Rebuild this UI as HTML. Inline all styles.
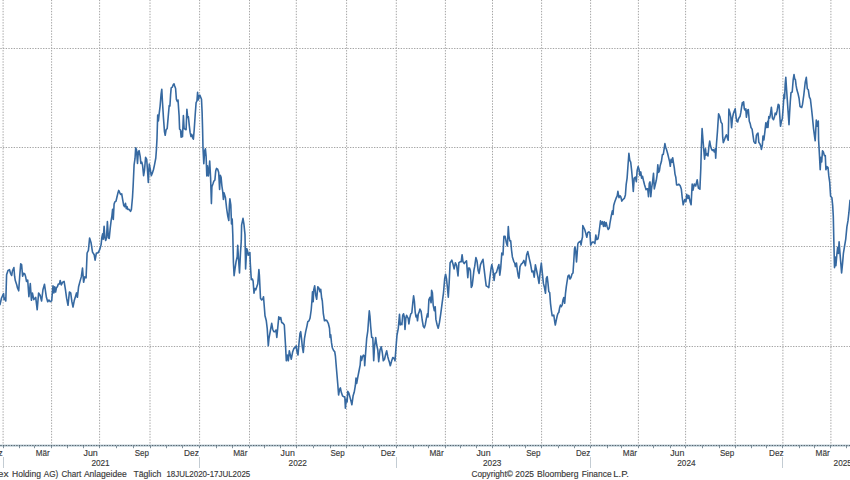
<!DOCTYPE html>
<html><head><meta charset="utf-8"><style>
html,body{margin:0;padding:0;background:#fff;}
body{width:850px;height:480px;overflow:hidden;}
svg{display:block;}
text{font-family:"Liberation Sans",sans-serif;font-size:9px;fill:#383838;stroke:#383838;stroke-width:0.15px;}
text.m{font-size:9.6px;}
</style></head><body>
<svg width="850" height="480" viewBox="0 0 850 480">
<rect width="850" height="480" fill="#fff"/>
<line x1="0" y1="48.5" x2="850" y2="48.5" stroke="#a4a4a4" stroke-width="1" stroke-dasharray="1.3345 1.3345" stroke-dashoffset="-0.36"/>
<line x1="0" y1="147.5" x2="850" y2="147.5" stroke="#a4a4a4" stroke-width="1" stroke-dasharray="1.3345 1.3345" stroke-dashoffset="-0.36"/>
<line x1="0" y1="246.5" x2="850" y2="246.5" stroke="#a4a4a4" stroke-width="1" stroke-dasharray="1.3345 1.3345" stroke-dashoffset="-0.36"/>
<line x1="0" y1="346.5" x2="850" y2="346.5" stroke="#a4a4a4" stroke-width="1" stroke-dasharray="1.3345 1.3345" stroke-dashoffset="-0.36"/>
<line x1="3.10" y1="0" x2="3.10" y2="447" stroke="#a4a4a4" stroke-width="1" stroke-dasharray="1.4 1.4" stroke-dashoffset="0.3"/>
<line x1="51.60" y1="0" x2="51.60" y2="447" stroke="#a4a4a4" stroke-width="1" stroke-dasharray="1.4 1.4" stroke-dashoffset="0.3"/>
<line x1="99.60" y1="0" x2="99.60" y2="447" stroke="#a4a4a4" stroke-width="1" stroke-dasharray="1.4 1.4" stroke-dashoffset="0.3"/>
<line x1="150.00" y1="0" x2="150.00" y2="447" stroke="#a4a4a4" stroke-width="1" stroke-dasharray="1.4 1.4" stroke-dashoffset="0.3"/>
<line x1="199.60" y1="0" x2="199.60" y2="447" stroke="#a4a4a4" stroke-width="1" stroke-dasharray="1.4 1.4" stroke-dashoffset="0.3"/>
<line x1="249.50" y1="0" x2="249.50" y2="447" stroke="#a4a4a4" stroke-width="1" stroke-dasharray="1.4 1.4" stroke-dashoffset="0.3"/>
<line x1="296.30" y1="0" x2="296.30" y2="447" stroke="#a4a4a4" stroke-width="1" stroke-dasharray="1.4 1.4" stroke-dashoffset="0.3"/>
<line x1="346.60" y1="0" x2="346.60" y2="447" stroke="#a4a4a4" stroke-width="1" stroke-dasharray="1.4 1.4" stroke-dashoffset="0.3"/>
<line x1="396.30" y1="0" x2="396.30" y2="447" stroke="#a4a4a4" stroke-width="1" stroke-dasharray="1.4 1.4" stroke-dashoffset="0.3"/>
<line x1="445.40" y1="0" x2="445.40" y2="447" stroke="#a4a4a4" stroke-width="1" stroke-dasharray="1.4 1.4" stroke-dashoffset="0.3"/>
<line x1="492.50" y1="0" x2="492.50" y2="447" stroke="#a4a4a4" stroke-width="1" stroke-dasharray="1.4 1.4" stroke-dashoffset="0.3"/>
<line x1="541.60" y1="0" x2="541.60" y2="447" stroke="#a4a4a4" stroke-width="1" stroke-dasharray="1.4 1.4" stroke-dashoffset="0.3"/>
<line x1="590.60" y1="0" x2="590.60" y2="447" stroke="#a4a4a4" stroke-width="1" stroke-dasharray="1.4 1.4" stroke-dashoffset="0.3"/>
<line x1="638.40" y1="0" x2="638.40" y2="447" stroke="#a4a4a4" stroke-width="1" stroke-dasharray="1.4 1.4" stroke-dashoffset="0.3"/>
<line x1="685.60" y1="0" x2="685.60" y2="447" stroke="#a4a4a4" stroke-width="1" stroke-dasharray="1.4 1.4" stroke-dashoffset="0.3"/>
<line x1="735.30" y1="0" x2="735.30" y2="447" stroke="#a4a4a4" stroke-width="1" stroke-dasharray="1.4 1.4" stroke-dashoffset="0.3"/>
<line x1="782.90" y1="0" x2="782.90" y2="447" stroke="#a4a4a4" stroke-width="1" stroke-dasharray="1.4 1.4" stroke-dashoffset="0.3"/>
<line x1="830.90" y1="0" x2="830.90" y2="447" stroke="#a4a4a4" stroke-width="1" stroke-dasharray="1.4 1.4" stroke-dashoffset="0.3"/>
<rect x="0" y="444.6" width="850" height="2.0" fill="#b3c6d0"/>
<line x1="0" y1="445.5" x2="850" y2="445.5" stroke="#56646e" stroke-width="1" stroke-dasharray="1.33 1.33" stroke-dashoffset="-0.3"/>
<line x1="3.5" y1="446" x2="3.5" y2="448.2" stroke="#7f8f9a" stroke-width="1"/>
<line x1="19.5" y1="446" x2="19.5" y2="448.2" stroke="#7f8f9a" stroke-width="1"/>
<line x1="34.5" y1="446" x2="34.5" y2="448.2" stroke="#7f8f9a" stroke-width="1"/>
<line x1="51.5" y1="446" x2="51.5" y2="448.2" stroke="#7f8f9a" stroke-width="1"/>
<line x1="67.5" y1="446" x2="67.5" y2="448.2" stroke="#7f8f9a" stroke-width="1"/>
<line x1="83.5" y1="446" x2="83.5" y2="448.2" stroke="#7f8f9a" stroke-width="1"/>
<line x1="99.5" y1="446" x2="99.5" y2="448.2" stroke="#7f8f9a" stroke-width="1"/>
<line x1="116.5" y1="446" x2="116.5" y2="448.2" stroke="#7f8f9a" stroke-width="1"/>
<line x1="133.5" y1="446" x2="133.5" y2="448.2" stroke="#7f8f9a" stroke-width="1"/>
<line x1="150.5" y1="446" x2="150.5" y2="448.2" stroke="#7f8f9a" stroke-width="1"/>
<line x1="166.5" y1="446" x2="166.5" y2="448.2" stroke="#7f8f9a" stroke-width="1"/>
<line x1="182.5" y1="446" x2="182.5" y2="448.2" stroke="#7f8f9a" stroke-width="1"/>
<line x1="199.5" y1="446" x2="199.5" y2="448.2" stroke="#7f8f9a" stroke-width="1"/>
<line x1="216.5" y1="446" x2="216.5" y2="448.2" stroke="#7f8f9a" stroke-width="1"/>
<line x1="232.5" y1="446" x2="232.5" y2="448.2" stroke="#7f8f9a" stroke-width="1"/>
<line x1="249.5" y1="446" x2="249.5" y2="448.2" stroke="#7f8f9a" stroke-width="1"/>
<line x1="264.5" y1="446" x2="264.5" y2="448.2" stroke="#7f8f9a" stroke-width="1"/>
<line x1="280.5" y1="446" x2="280.5" y2="448.2" stroke="#7f8f9a" stroke-width="1"/>
<line x1="296.5" y1="446" x2="296.5" y2="448.2" stroke="#7f8f9a" stroke-width="1"/>
<line x1="313.5" y1="446" x2="313.5" y2="448.2" stroke="#7f8f9a" stroke-width="1"/>
<line x1="330.5" y1="446" x2="330.5" y2="448.2" stroke="#7f8f9a" stroke-width="1"/>
<line x1="346.5" y1="446" x2="346.5" y2="448.2" stroke="#7f8f9a" stroke-width="1"/>
<line x1="363.5" y1="446" x2="363.5" y2="448.2" stroke="#7f8f9a" stroke-width="1"/>
<line x1="379.5" y1="446" x2="379.5" y2="448.2" stroke="#7f8f9a" stroke-width="1"/>
<line x1="396.5" y1="446" x2="396.5" y2="448.2" stroke="#7f8f9a" stroke-width="1"/>
<line x1="413.5" y1="446" x2="413.5" y2="448.2" stroke="#7f8f9a" stroke-width="1"/>
<line x1="428.5" y1="446" x2="428.5" y2="448.2" stroke="#7f8f9a" stroke-width="1"/>
<line x1="445.5" y1="446" x2="445.5" y2="448.2" stroke="#7f8f9a" stroke-width="1"/>
<line x1="460.5" y1="446" x2="460.5" y2="448.2" stroke="#7f8f9a" stroke-width="1"/>
<line x1="476.5" y1="446" x2="476.5" y2="448.2" stroke="#7f8f9a" stroke-width="1"/>
<line x1="492.5" y1="446" x2="492.5" y2="448.2" stroke="#7f8f9a" stroke-width="1"/>
<line x1="509.5" y1="446" x2="509.5" y2="448.2" stroke="#7f8f9a" stroke-width="1"/>
<line x1="525.5" y1="446" x2="525.5" y2="448.2" stroke="#7f8f9a" stroke-width="1"/>
<line x1="541.5" y1="446" x2="541.5" y2="448.2" stroke="#7f8f9a" stroke-width="1"/>
<line x1="558.5" y1="446" x2="558.5" y2="448.2" stroke="#7f8f9a" stroke-width="1"/>
<line x1="574.5" y1="446" x2="574.5" y2="448.2" stroke="#7f8f9a" stroke-width="1"/>
<line x1="590.5" y1="446" x2="590.5" y2="448.2" stroke="#7f8f9a" stroke-width="1"/>
<line x1="607.5" y1="446" x2="607.5" y2="448.2" stroke="#7f8f9a" stroke-width="1"/>
<line x1="621.5" y1="446" x2="621.5" y2="448.2" stroke="#7f8f9a" stroke-width="1"/>
<line x1="638.5" y1="446" x2="638.5" y2="448.2" stroke="#7f8f9a" stroke-width="1"/>
<line x1="653.5" y1="446" x2="653.5" y2="448.2" stroke="#7f8f9a" stroke-width="1"/>
<line x1="670.5" y1="446" x2="670.5" y2="448.2" stroke="#7f8f9a" stroke-width="1"/>
<line x1="685.5" y1="446" x2="685.5" y2="448.2" stroke="#7f8f9a" stroke-width="1"/>
<line x1="702.5" y1="446" x2="702.5" y2="448.2" stroke="#7f8f9a" stroke-width="1"/>
<line x1="719.5" y1="446" x2="719.5" y2="448.2" stroke="#7f8f9a" stroke-width="1"/>
<line x1="735.5" y1="446" x2="735.5" y2="448.2" stroke="#7f8f9a" stroke-width="1"/>
<line x1="751.5" y1="446" x2="751.5" y2="448.2" stroke="#7f8f9a" stroke-width="1"/>
<line x1="766.5" y1="446" x2="766.5" y2="448.2" stroke="#7f8f9a" stroke-width="1"/>
<line x1="782.5" y1="446" x2="782.5" y2="448.2" stroke="#7f8f9a" stroke-width="1"/>
<line x1="799.5" y1="446" x2="799.5" y2="448.2" stroke="#7f8f9a" stroke-width="1"/>
<line x1="814.5" y1="446" x2="814.5" y2="448.2" stroke="#7f8f9a" stroke-width="1"/>
<line x1="830.5" y1="446" x2="830.5" y2="448.2" stroke="#7f8f9a" stroke-width="1"/>
<line x1="846.5" y1="446" x2="846.5" y2="448.2" stroke="#7f8f9a" stroke-width="1"/>
<line x1="3.5" y1="457" x2="3.5" y2="468" stroke="#c3ccd3" stroke-width="1"/>
<line x1="199.5" y1="457" x2="199.5" y2="468" stroke="#c3ccd3" stroke-width="1"/>
<line x1="396.5" y1="457" x2="396.5" y2="468" stroke="#c3ccd3" stroke-width="1"/>
<line x1="590.5" y1="457" x2="590.5" y2="468" stroke="#c3ccd3" stroke-width="1"/>
<line x1="782.5" y1="457" x2="782.5" y2="468" stroke="#c3ccd3" stroke-width="1"/>
<path d="M0.0,304.7 L1.5,298.0 L2.9,295.0 L3.6,293.7 L4.1,299.6 L5.1,298.0 L5.8,301.0 L6.6,274.8 L8.0,270.4 L9.5,269.7 L10.5,273.3 L11.7,275.5 L12.4,271.0 L13.9,267.5 L14.6,276.2 L15.3,280.6 L16.8,285.0 L17.5,288.0 L18.7,290.8 L19.7,276.2 L20.7,263.9 L21.6,264.6 L22.6,276.2 L23.6,273.3 L24.8,274.0 L25.5,276.2 L26.5,281.4 L27.7,280.0 L28.9,296.7 L30.3,283.5 L31.4,300.3 L32.4,293.0 L33.8,299.6 L35.7,297.4 L37.2,309.8 L38.6,293.0 L40.1,295.2 L41.6,301.0 L43.0,289.4 L44.5,284.3 L46.4,297.3 L47.7,301.7 L48.9,300.0 L50.3,301.7 L51.7,300.8 L53.0,285.8 L53.9,292.9 L54.7,286.7 L55.6,292.0 L56.5,287.6 L57.4,286.7 L58.3,284.0 L59.5,284.0 L60.2,280.5 L61.3,284.9 L62.7,282.2 L64.1,281.4 L65.4,289.3 L66.6,298.2 L68.0,305.3 L69.4,292.0 L70.7,292.9 L71.9,301.7 L73.0,307.0 L74.2,300.8 L75.5,296.4 L76.5,292.9 L77.4,297.3 L78.6,286.7 L80.0,281.4 L81.3,276.9 L82.5,268.0 L83.6,282.2 L84.8,276.9 L86.1,277.8 L87.1,253.0 L88.4,250.4 L89.6,238.0 L91.0,242.4 L92.5,252.1 L94.2,254.8 L95.1,260.1 L96.4,253.0 L97.8,253.0 L99.0,251.2 L100.0,248.6 L101.1,244.6 L101.9,237.1 L102.7,233.7 L103.2,239.2 L104.1,226.3 L104.9,237.8 L105.7,240.5 L106.5,237.8 L107.4,221.6 L108.4,237.8 L109.2,238.5 L110.2,228.3 L111.1,220.9 L111.9,216.1 L112.6,209.4 L113.3,219.5 L114.1,204.0 L114.9,201.9 L116.0,201.2 L116.9,197.2 L117.9,193.1 L118.7,190.4 L119.6,192.4 L120.6,194.5 L121.7,193.8 L122.7,199.9 L123.7,205.3 L124.6,206.7 L125.5,203.3 L126.3,208.7 L127.1,206.7 L127.8,209.4 L129.1,209.4 L130.5,211.4 L131.4,209.4 L132.5,197.2 L133.1,186.5 L134.1,164.8 L135.0,158.7 L135.7,147.9 L136.5,149.9 L137.5,163.4 L138.3,151.9 L139.1,150.6 L140.2,156.7 L140.9,163.4 L141.8,162.1 L142.6,165.5 L143.6,175.6 L144.5,170.2 L145.6,157.3 L146.7,159.4 L147.6,171.6 L148.3,182.4 L149.3,164.1 L150.3,169.5 L151.3,175.6 L152.4,172.9 L153.5,169.5 L154.5,164.8 L155.8,158.0 L156.4,149.9 L157.0,138.6 L157.7,115.0 L158.4,121.0 L159.1,114.3 L160.1,106.1 L161.1,94.0 L161.8,89.2 L162.4,100.7 L163.4,117.0 L164.5,131.9 L165.2,135.3 L166.1,129.8 L167.2,128.5 L168.3,115.6 L169.2,105.5 L169.9,106.1 L170.6,94.6 L171.2,87.9 L172.3,87.2 L173.3,84.5 L174.0,83.8 L174.6,85.8 L175.6,88.5 L176.4,99.4 L177.3,101.4 L178.0,100.0 L179.1,115.6 L179.6,129.2 L180.5,129.8 L181.1,137.3 L181.8,131.2 L182.5,136.6 L183.4,115.6 L184.1,128.5 L185.1,129.2 L186.1,129.7 L186.9,109.4 L187.7,117.5 L188.4,116.8 L189.3,125.6 L190.1,132.4 L191.0,136.5 L191.8,134.4 L192.6,137.8 L193.4,139.2 L194.2,129.7 L195.2,114.8 L196.1,102.6 L196.9,101.2 L197.6,92.4 L198.3,99.9 L199.2,95.8 L199.9,95.2 L200.7,97.2 L201.5,99.2 L202.1,112.1 L202.6,129.7 L203.0,148.1 L203.8,163.7 L204.7,150.8 L205.4,148.8 L206.1,156.2 L206.8,175.9 L207.4,165.7 L208.4,175.9 L209.2,168.4 L209.7,161.0 L210.6,177.9 L211.4,203.6 L211.9,186.7 L212.9,184.0 L213.8,181.3 L214.9,180.0 L215.7,171.1 L216.5,168.4 L217.6,169.1 L218.7,172.5 L219.6,189.4 L220.3,175.2 L221.1,177.2 L221.9,186.0 L222.7,191.4 L223.4,199.5 L224.0,192.7 L225.4,197.4 L226.7,209.0 L227.7,215.7 L228.8,220.5 L229.4,204.9 L229.9,198.8 L230.8,204.9 L231.5,223.9 L232.2,219.1 L232.8,234.7 L233.4,262.1 L234.1,275.6 L235.0,268.9 L236.1,261.4 L237.2,256.7 L237.7,245.2 L238.6,260.0 L239.5,272.9 L240.5,252.6 L241.3,240.4 L241.6,225.2 L243.0,218.4 L243.9,223.9 L245.0,234.7 L245.6,268.9 L246.7,248.5 L247.6,251.2 L248.3,255.3 L249.0,253.3 L249.9,252.6 L250.3,263.4 L251.3,279.7 L252.4,279.0 L253.1,281.0 L254.0,293.2 L254.8,288.5 L255.8,289.8 L256.7,287.1 L257.8,283.7 L258.9,269.5 L259.4,275.6 L260.5,298.3 L261.7,300.0 L262.7,299.2 L263.5,296.7 L264.3,306.7 L265.0,315.8 L266.3,320.8 L267.2,328.3 L268.3,345.8 L269.0,338.3 L270.5,330.0 L271.7,323.3 L272.7,329.2 L273.8,331.7 L275.0,331.7 L276.0,330.0 L276.8,337.5 L277.7,328.3 L278.8,316.7 L279.7,319.2 L280.7,317.5 L281.7,322.5 L283.0,323.3 L284.3,325.0 L285.5,345.0 L286.3,360.8 L287.3,355.0 L288.3,360.8 L289.3,350.8 L290.3,355.0 L291.3,359.2 L292.7,351.7 L294.0,348.3 L295.3,347.5 L296.2,345.8 L297.0,351.7 L298.0,355.0 L299.0,343.3 L300.0,333.3 L300.7,331.7 L301.7,340.0 L302.3,346.7 L303.3,352.5 L304.5,338.3 L305.7,331.7 L307.0,325.8 L307.8,321.7 L309.0,320.8 L310.0,318.3 L311.2,310.0 L312.0,300.0 L312.5,291.7 L313.2,301.7 L313.7,290.0 L314.7,285.8 L315.7,295.0 L316.7,299.2 L317.8,286.7 L319.0,288.3 L320.0,291.7 L320.7,289.2 L321.7,298.3 L322.3,300.8 L323.3,313.3 L324.5,320.8 L325.7,320.0 L327.0,320.8 L328.3,323.3 L329.5,328.3 L330.1,337.4 L330.7,334.7 L331.5,342.7 L332.4,348.0 L333.7,350.7 L334.7,351.6 L335.4,356.0 L336.5,369.3 L337.7,383.4 L338.6,395.0 L339.5,389.6 L340.4,387.9 L341.3,392.3 L342.5,395.8 L343.6,396.7 L344.8,396.7 L345.4,408.2 L346.2,399.4 L347.1,402.0 L347.8,391.4 L348.9,393.2 L350.1,397.6 L351.0,401.1 L351.9,404.7 L353.1,395.8 L354.2,392.3 L355.4,385.2 L356.0,378.1 L356.7,383.4 L357.8,377.2 L359.0,371.0 L360.2,364.8 L360.8,356.0 L361.6,360.4 L362.5,356.9 L363.4,355.1 L364.3,356.0 L364.7,365.8 L365.7,351.7 L366.7,338.3 L367.8,330.8 L368.7,318.3 L369.3,310.8 L370.0,316.7 L370.7,326.7 L371.7,337.5 L372.8,337.5 L373.7,360.8 L374.5,346.7 L375.7,337.5 L376.7,345.0 L377.8,350.0 L378.7,361.7 L380.0,350.0 L381.2,346.7 L382.3,352.5 L383.3,360.8 L384.5,359.2 L385.7,354.2 L386.7,350.8 L387.8,356.7 L388.7,360.0 L389.5,362.5 L390.3,365.8 L391.7,360.8 L392.8,357.5 L394.0,358.3 L395.0,360.8 L396.2,345.0 L397.0,335.0 L398.3,328.3 L399.5,314.2 L400.3,325.0 L401.2,323.3 L401.9,324.7 L402.7,315.3 L403.5,313.8 L404.3,316.9 L405.0,329.4 L405.8,318.4 L406.6,315.3 L407.4,316.9 L408.2,318.4 L408.9,323.9 L409.7,318.4 L410.8,313.8 L411.8,313.0 L412.8,302.8 L413.6,295.8 L414.4,301.3 L415.2,312.2 L416.0,316.9 L416.8,315.3 L417.5,320.8 L418.3,313.8 L419.1,312.2 L419.9,309.1 L421.1,311.4 L422.2,320.0 L423.3,326.3 L424.3,327.8 L425.3,324.7 L426.4,318.4 L427.4,313.8 L428.0,316.9 L428.9,299.7 L430.0,297.3 L431.1,302.8 L431.6,290.3 L432.4,292.7 L433.2,305.2 L434.3,310.6 L435.2,306.7 L435.9,319.4 L437.1,324.7 L438.2,328.2 L439.4,322.9 L440.7,314.1 L442.1,303.4 L443.5,292.8 L444.7,278.6 L445.6,274.2 L446.5,278.6 L447.4,287.5 L448.3,297.2 L449.2,282.2 L450.1,262.7 L450.9,261.8 L451.8,260.1 L453.1,264.5 L454.1,268.9 L455.4,262.7 L456.6,265.4 L458.0,276.0 L458.9,262.7 L460.1,261.8 L461.2,261.8 L462.1,254.7 L463.0,261.8 L464.2,263.6 L465.5,261.8 L466.5,260.9 L467.8,277.8 L468.6,268.0 L469.5,268.0 L470.4,270.7 L471.3,287.5 L472.2,285.7 L473.1,277.8 L474.0,269.8 L474.7,266.4 L475.9,257.5 L477.0,261.0 L478.2,270.8 L479.1,273.4 L480.5,264.6 L481.7,261.9 L483.0,259.3 L484.0,268.1 L485.3,278.8 L486.2,285.8 L487.6,286.7 L488.8,287.6 L489.7,278.8 L491.1,268.1 L491.8,264.6 L492.9,269.9 L494.1,280.5 L495.0,273.4 L496.4,272.6 L497.7,268.1 L498.9,264.6 L499.8,275.2 L500.7,268.1 L501.8,253.1 L503.0,254.8 L503.9,236.3 L505.1,236.3 L506.5,243.3 L507.4,246.0 L508.3,226.5 L508.9,235.6 L509.8,240.9 L510.7,240.9 L511.5,249.8 L512.4,256.9 L513.7,261.3 L514.7,263.1 L515.4,266.6 L516.5,263.1 L517.2,269.3 L518.3,276.4 L519.0,278.1 L520.0,266.6 L521.3,264.0 L522.5,263.1 L523.9,260.4 L525.4,265.7 L526.6,255.1 L527.8,251.6 L529.3,258.6 L530.7,264.8 L531.9,271.9 L533.1,271.0 L534.2,277.2 L535.4,264.8 L536.7,271.0 L537.8,276.4 L539.0,283.4 L540.2,271.9 L541.3,263.1 L542.5,274.6 L543.4,283.4 L544.3,286.7 L545.5,293.3 L546.3,278.3 L547.2,276.7 L548.0,283.3 L548.8,291.7 L549.7,292.5 L550.5,303.3 L551.3,310.0 L552.2,315.8 L553.0,315.8 L553.8,315.0 L554.7,321.7 L555.3,325.0 L556.3,320.0 L557.2,315.8 L558.0,313.3 L558.8,312.5 L559.7,307.5 L560.5,305.0 L561.3,306.7 L562.2,305.0 L563.0,300.0 L563.8,297.5 L564.7,303.3 L565.5,293.3 L566.3,286.7 L567.0,282.0 L568.0,276.0 L569.0,275.0 L570.0,279.0 L571.0,277.5 L572.0,274.0 L573.0,273.0 L573.8,261.0 L574.5,249.0 L575.0,247.0 L575.8,252.0 L576.5,262.0 L577.2,253.0 L577.8,244.0 L578.5,242.5 L579.5,242.0 L580.5,241.0 L581.0,245.0 L581.8,240.0 L582.5,237.0 L582.8,225.6 L584.7,229.5 L585.8,233.4 L586.8,237.3 L587.8,232.7 L588.9,231.9 L589.9,232.7 L590.7,245.2 L591.4,243.6 L592.5,242.0 L593.6,242.0 L594.9,243.6 L595.8,235.0 L596.8,239.7 L598.0,238.9 L598.9,233.4 L599.9,225.6 L600.5,220.9 L601.4,224.1 L602.4,221.7 L603.5,226.4 L604.3,221.7 L605.2,226.4 L606.1,222.5 L607.1,226.4 L608.2,229.5 L609.3,228.0 L609.8,224.1 L611.2,216.1 L612.4,210.8 L613.0,214.4 L613.7,205.5 L614.7,202.0 L616.0,198.4 L617.2,195.8 L617.9,191.4 L619.0,197.6 L620.0,195.8 L620.8,196.7 L621.8,201.1 L623.1,199.3 L624.3,198.4 L625.4,194.9 L626.2,184.3 L627.1,178.1 L627.8,168.3 L628.9,153.3 L629.8,160.4 L630.7,162.1 L631.6,170.1 L632.4,179.0 L633.3,191.4 L634.2,178.1 L635.4,177.2 L636.3,181.6 L637.2,170.1 L638.1,166.6 L639.0,169.2 L639.9,175.4 L640.8,171.9 L641.6,178.1 L642.5,176.3 L643.4,180.3 L644.6,185.0 L645.3,187.3 L646.1,189.7 L646.9,188.9 L647.7,188.9 L648.5,196.7 L649.3,183.4 L650.0,181.9 L650.8,196.7 L651.6,188.1 L652.7,181.1 L653.5,173.3 L654.3,188.9 L655.2,185.0 L656.3,180.3 L657.1,174.8 L657.8,164.7 L658.6,172.5 L659.4,170.9 L660.2,165.5 L661.4,161.6 L662.4,154.5 L663.3,154.5 L664.1,149.1 L664.9,143.6 L665.7,147.5 L666.4,149.1 L667.7,153.8 L668.8,158.4 L669.6,161.6 L670.3,166.3 L671.1,159.2 L671.9,162.3 L672.7,157.7 L673.5,163.1 L674.3,167.8 L675.0,174.1 L675.8,177.2 L676.6,185.0 L677.7,185.0 L678.9,184.2 L680.2,185.8 L681.3,188.9 L682.2,197.5 L683.2,204.8 L684.7,199.6 L685.9,201.7 L686.8,194.4 L688.0,198.5 L688.8,195.4 L690.1,201.7 L691.1,204.8 L692.2,184.0 L693.0,190.2 L694.3,184.0 L695.7,186.0 L697.2,179.8 L698.4,188.1 L699.9,189.2 L700.8,168.4 L701.4,146.6 L702.1,128.6 L703.0,140.3 L703.9,151.3 L704.6,159.1 L705.5,148.9 L706.1,155.2 L707.1,153.6 L708.0,155.9 L708.9,146.6 L709.7,141.1 L710.5,145.8 L711.4,148.9 L712.4,150.5 L713.3,149.7 L714.3,152.0 L715.2,148.9 L715.7,158.3 L716.4,145.0 L717.5,130.9 L718.6,113.8 L719.9,116.9 L721.1,122.3 L722.2,123.9 L722.7,137.2 L723.3,142.7 L724.3,140.3 L725.3,137.2 L726.4,134.8 L727.4,138.0 L728.2,140.3 L728.9,109.1 L730.0,113.0 L730.8,116.9 L731.6,127.8 L732.4,118.4 L733.3,113.8 L734.3,111.1 L735.2,108.8 L736.1,117.3 L736.9,121.3 L737.7,122.0 L738.5,118.9 L739.3,117.3 L740.0,116.6 L740.8,112.7 L741.6,107.2 L742.4,102.5 L743.2,104.8 L743.6,101.7 L744.3,108.8 L745.2,110.3 L745.8,108.8 L746.4,117.3 L747.4,110.3 L748.3,109.5 L749.3,121.3 L750.2,123.6 L751.0,127.5 L752.1,129.1 L753.0,135.3 L753.9,141.6 L754.9,143.1 L755.7,143.1 L756.4,135.3 L757.2,133.8 L758.0,133.0 L758.8,142.3 L759.9,143.9 L760.8,146.3 L761.4,149.4 L762.4,144.7 L763.0,136.1 L763.9,140.0 L765.0,130.6 L765.8,122.8 L766.6,127.5 L767.7,121.3 L768.0,127.5 L768.8,116.6 L769.6,118.1 L770.3,115.0 L771.4,107.2 L772.4,118.1 L773.5,119.7 L774.6,116.6 L775.2,113.1 L776.2,114.6 L777.2,110.2 L778.2,104.4 L779.1,105.1 L779.7,114.6 L780.5,126.3 L781.4,121.1 L782.3,119.0 L783.2,107.3 L784.0,94.2 L784.6,98.5 L785.2,84.0 L785.8,77.4 L786.4,86.9 L787.3,100.0 L788.1,111.7 L789.0,124.8 L789.6,113.1 L790.3,101.5 L791.0,92.7 L792.2,92.0 L793.2,79.6 L794.0,74.5 L794.7,78.9 L795.4,79.6 L796.1,85.4 L796.9,89.8 L798.0,93.4 L799.1,98.5 L800.0,106.5 L801.7,107.5 L802.5,104.4 L803.8,95.0 L805.2,82.5 L806.3,77.3 L807.3,88.8 L808.3,89.8 L809.4,97.1 L810.4,99.2 L811.5,108.5 L812.5,117.9 L813.5,128.3 L814.6,136.7 L815.2,140.8 L816.3,120.0 L817.1,126.3 L818.3,121.0 L818.6,140.0 L819.4,154.1 L820.2,169.7 L820.9,157.2 L821.7,161.9 L822.5,150.9 L823.3,151.7 L824.4,155.6 L825.3,155.6 L825.9,169.7 L826.9,166.6 L828.0,167.3 L828.8,175.9 L829.7,182.2 L830.6,196.3 L831.9,197.8 L832.7,205.6 L833.3,216.3 L833.8,239.3 L834.5,267.6 L835.2,257.0 L835.9,265.8 L836.8,255.2 L837.7,247.2 L838.4,253.4 L839.1,241.9 L840.0,253.4 L840.9,264.1 L841.6,272.9 L842.5,264.1 L843.4,253.4 L844.4,247.2 L845.7,239.3 L846.9,226.9 L848.0,220.7 L848.9,212.7 L850.0,200.3" fill="none" stroke="#3669a1" stroke-width="1.6" stroke-linejoin="round" stroke-linecap="round"/>
<text class="m" x="-12.2" y="456.0" textLength="14.7" lengthAdjust="spacingAndGlyphs">Dez</text>
<text class="m" x="35.7" y="456.0" textLength="13.9" lengthAdjust="spacingAndGlyphs">Mär</text>
<text class="m" x="83.5" y="456.0" textLength="14.3" lengthAdjust="spacingAndGlyphs">Jun</text>
<text class="m" x="134.7" y="456.0" textLength="14.2" lengthAdjust="spacingAndGlyphs">Sep</text>
<text class="m" x="184.0" y="456.0" textLength="14.8" lengthAdjust="spacingAndGlyphs">Dez</text>
<text class="m" x="233.2" y="456.0" textLength="14.2" lengthAdjust="spacingAndGlyphs">Mär</text>
<text class="m" x="280.6" y="456.0" textLength="14.2" lengthAdjust="spacingAndGlyphs">Jun</text>
<text class="m" x="330.5" y="456.0" textLength="14.2" lengthAdjust="spacingAndGlyphs">Sep</text>
<text class="m" x="380.8" y="456.0" textLength="14.7" lengthAdjust="spacingAndGlyphs">Dez</text>
<text class="m" x="429.5" y="456.0" textLength="14.2" lengthAdjust="spacingAndGlyphs">Mär</text>
<text class="m" x="476.4" y="456.0" textLength="14.2" lengthAdjust="spacingAndGlyphs">Jun</text>
<text class="m" x="526.2" y="456.0" textLength="14.3" lengthAdjust="spacingAndGlyphs">Sep</text>
<text class="m" x="576.1" y="456.0" textLength="14.2" lengthAdjust="spacingAndGlyphs">Dez</text>
<text class="m" x="622.8" y="456.0" textLength="14.2" lengthAdjust="spacingAndGlyphs">Mär</text>
<text class="m" x="670.2" y="456.0" textLength="14.2" lengthAdjust="spacingAndGlyphs">Jun</text>
<text class="m" x="720.0" y="456.0" textLength="14.3" lengthAdjust="spacingAndGlyphs">Sep</text>
<text class="m" x="769.0" y="456.0" textLength="14.6" lengthAdjust="spacingAndGlyphs">Dez</text>
<text class="m" x="815.6" y="456.0" textLength="14.2" lengthAdjust="spacingAndGlyphs">Mär</text>
<text class="m" x="91.4" y="466.0" textLength="18.3" lengthAdjust="spacingAndGlyphs">2021</text>
<text class="m" x="288.6" y="466.0" textLength="18.3" lengthAdjust="spacingAndGlyphs">2022</text>
<text class="m" x="483.0" y="466.0" textLength="18.3" lengthAdjust="spacingAndGlyphs">2023</text>
<text class="m" x="677.3" y="466.0" textLength="18.3" lengthAdjust="spacingAndGlyphs">2024</text>
<text class="m" x="833.6" y="466.0" textLength="18.3" lengthAdjust="spacingAndGlyphs">2025</text>
<text x="-2.2" y="477.1" textLength="10.8" lengthAdjust="spacingAndGlyphs">ex</text>
<text x="12.0" y="477.1" textLength="29.0" lengthAdjust="spacingAndGlyphs">Holding</text>
<text x="43.7" y="477.1" textLength="14.6" lengthAdjust="spacingAndGlyphs">AG)</text>
<text x="61.4" y="477.1" textLength="19.8" lengthAdjust="spacingAndGlyphs">Chart</text>
<text x="83.89999999999999" y="477.1" textLength="42.9" lengthAdjust="spacingAndGlyphs">Anlageidee</text>
<text x="133.4" y="477.1" textLength="28.0" lengthAdjust="spacingAndGlyphs">Täglich</text>
<text x="166.4" y="477.1" textLength="83.9" lengthAdjust="spacingAndGlyphs">18JUL2020-17JUL2025</text>
<text x="471.5" y="477.1" textLength="41.3" lengthAdjust="spacingAndGlyphs">Copyright©</text>
<text x="515.3000000000001" y="477.1" textLength="18.7" lengthAdjust="spacingAndGlyphs">2025</text>
<text x="537.0" y="477.1" textLength="41.5" lengthAdjust="spacingAndGlyphs">Bloomberg</text>
<text x="581.7" y="477.1" textLength="29.9" lengthAdjust="spacingAndGlyphs">Finance</text>
<text x="613.3000000000001" y="477.1" textLength="15.6" lengthAdjust="spacingAndGlyphs">L.P.</text>
</svg>
</body></html>
